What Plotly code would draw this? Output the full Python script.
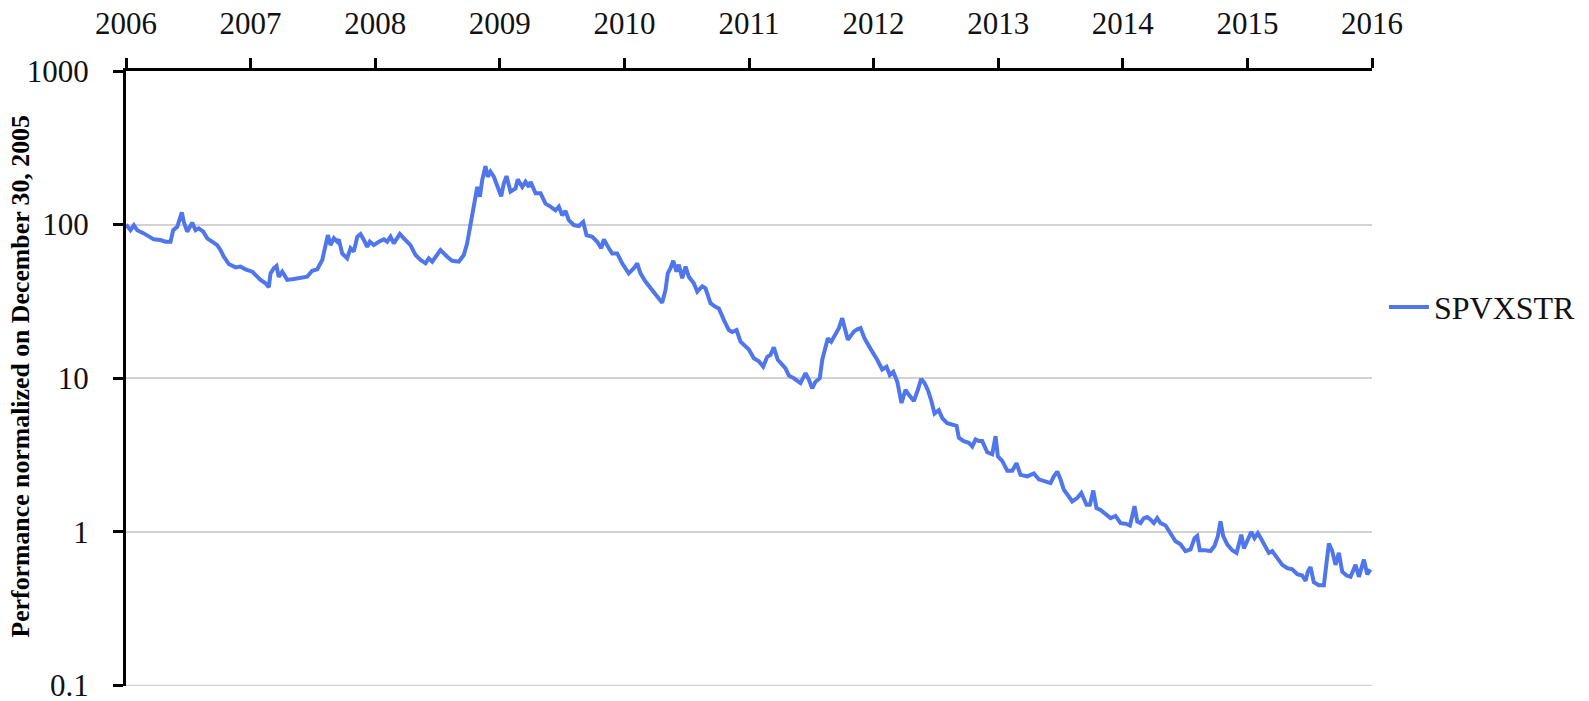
import plotly.graph_objects as go

# Decimal-year positions and SPVXSTR values
years = [
    2006.000, 2006.036, 2006.063, 2006.090, 2006.143, 2006.183, 2006.223, 2006.277, 2006.317, 2006.357,
    2006.379, 2006.411, 2006.432, 2006.448, 2006.464, 2006.491, 2006.531, 2006.558, 2006.584, 2006.620,
    2006.652, 2006.692, 2006.732, 2006.758, 2006.785, 2006.825, 2006.879, 2006.919, 2006.959, 2007.013,
    2007.039, 2007.080, 2007.120, 2007.146, 2007.160, 2007.186, 2007.208, 2007.226, 2007.254, 2007.294,
    2007.347, 2007.414, 2007.454, 2007.494, 2007.535, 2007.575, 2007.601, 2007.620, 2007.641, 2007.668,
    2007.695, 2007.708, 2007.735, 2007.775, 2007.802, 2007.828, 2007.856, 2007.882, 2007.909, 2007.936,
    2007.957, 2007.989, 2008.029, 2008.069, 2008.096, 2008.123, 2008.149, 2008.198, 2008.230, 2008.283,
    2008.324, 2008.364, 2008.404, 2008.430, 2008.458, 2008.498, 2008.524, 2008.578, 2008.618, 2008.671,
    2008.711, 2008.738, 2008.759, 2008.779, 2008.805, 2008.819, 2008.840, 2008.859, 2008.885, 2008.904,
    2008.925, 2008.952, 2008.979, 2009.011, 2009.032, 2009.054, 2009.086, 2009.126, 2009.144, 2009.180,
    2009.206, 2009.233, 2009.247, 2009.287, 2009.327, 2009.367, 2009.407, 2009.447, 2009.474, 2009.501,
    2009.527, 2009.554, 2009.594, 2009.634, 2009.669, 2009.696, 2009.742, 2009.782, 2009.814, 2009.835,
    2009.875, 2009.902, 2009.942, 2009.982, 2010.035, 2010.076, 2010.103, 2010.129, 2010.169, 2010.210,
    2010.250, 2010.303, 2010.330, 2010.348, 2010.370, 2010.392, 2010.418, 2010.437, 2010.464, 2010.491,
    2010.517, 2010.557, 2010.585, 2010.625, 2010.651, 2010.691, 2010.731, 2010.758, 2010.798, 2010.838,
    2010.865, 2010.900, 2010.932, 2010.972, 2010.999, 2011.039, 2011.079, 2011.114, 2011.146, 2011.173,
    2011.199, 2011.231, 2011.267, 2011.293, 2011.320, 2011.360, 2011.413, 2011.454, 2011.480, 2011.507,
    2011.534, 2011.568, 2011.588, 2011.606, 2011.633, 2011.660, 2011.686, 2011.721, 2011.748, 2011.775,
    2011.793, 2011.820, 2011.841, 2011.869, 2011.895, 2011.927, 2011.962, 2011.989, 2012.029, 2012.069,
    2012.104, 2012.130, 2012.158, 2012.190, 2012.224, 2012.256, 2012.283, 2012.323, 2012.355, 2012.382,
    2012.409, 2012.435, 2012.462, 2012.489, 2012.523, 2012.551, 2012.591, 2012.631, 2012.666, 2012.684,
    2012.724, 2012.764, 2012.792, 2012.818, 2012.845, 2012.872, 2012.912, 2012.952, 2012.979, 2012.997,
    2013.032, 2013.073, 2013.113, 2013.147, 2013.179, 2013.233, 2013.286, 2013.326, 2013.420, 2013.447,
    2013.474, 2013.500, 2013.527, 2013.567, 2013.594, 2013.634, 2013.667, 2013.709, 2013.736, 2013.763,
    2013.789, 2013.821, 2013.861, 2013.902, 2013.942, 2013.955, 2013.982, 2014.022, 2014.057, 2014.076,
    2014.094, 2014.116, 2014.142, 2014.169, 2014.196, 2014.223, 2014.249, 2014.276, 2014.303, 2014.343,
    2014.383, 2014.423, 2014.463, 2014.503, 2014.544, 2014.576, 2014.597, 2014.618, 2014.664, 2014.704,
    2014.736, 2014.763, 2014.784, 2014.806, 2014.838, 2014.878, 2014.913, 2014.931, 2014.951, 2014.972,
    2015.004, 2015.031, 2015.057, 2015.084, 2015.111, 2015.138, 2015.172, 2015.199, 2015.239, 2015.280,
    2015.320, 2015.360, 2015.400, 2015.440, 2015.467, 2015.485, 2015.507, 2015.533, 2015.573, 2015.614,
    2015.635, 2015.654, 2015.681, 2015.707, 2015.734, 2015.761, 2015.796, 2015.828, 2015.868, 2015.895,
    2015.935, 2015.962, 2015.988,
]

spvxstr = [
    100, 92, 99, 92, 87.7, 83.4, 80.2, 79.4, 77.4, 77.4,
    92, 96.9, 107, 120, 104, 90, 103, 92, 94.6, 90,
    81.5, 77.4, 73.6, 68.4, 61.8, 55.4, 52.7, 53.3, 51.2, 49.4,
    47, 43.7, 41.5, 39.1, 48.2, 52, 53.8, 45.8, 49.4, 43.7,
    44.3, 45.2, 45.8, 50.1, 51.2, 58.9, 71.8, 85.5, 73.6, 81.5,
    77.4, 80.2, 65, 60.4, 70.2, 66.7, 83.4, 86.9, 79.4, 71.8,
    77.4, 73.6, 77.4, 80.2, 77.4, 83.4, 75.5, 86.9, 81.5, 73.6,
    63.4, 58.9, 56, 60.4, 57.4, 63.4, 68.4, 61.8, 58.2, 57.4,
    63.4, 75.5, 96.9, 121, 152, 176, 152, 195, 240, 205,
    221, 205, 181, 153, 185, 207, 164, 172, 197, 176,
    190, 176, 190, 160, 160, 137, 131, 124, 131, 115,
    123, 107, 99.4, 98, 104, 85.5, 83.4, 77.4, 70.2, 80.2,
    70.2, 65, 65, 56, 48.2, 52, 56, 48.2, 42.6, 38.5,
    35.7, 31, 37.6, 48.2, 52, 58.2, 49.4, 54.9, 44.8, 53.3,
    45.8, 41.5, 36.6, 39.7, 38.5, 30.8, 29.2, 28.5, 24, 20.6,
    20, 20.6, 17.3, 16, 15.4, 13.5, 12.9, 11.9, 13.8, 14.2,
    15.9, 13.2, 12.2, 11.6, 10.4, 10, 9.3, 10.8, 9.8, 8.6,
    9.5, 10, 13.2, 15.3, 18.2, 17.3, 19.1, 21.2, 24.6, 20.1,
    17.8, 19.1, 20.1, 20.8, 21.2, 18.2, 16, 14.9, 13.2, 11.4,
    11.9, 10.5, 11.0, 9.5, 6.9, 8.4, 7.8, 7.1, 8.4, 9.9,
    9.3, 8.4, 7.2, 5.9, 6.2, 5.5, 5.1, 5.0, 4.9, 4.1,
    3.9, 3.8, 3.6, 4.0, 3.9, 3.9, 3.3, 3.2, 4.2, 3.1,
    2.9, 2.5, 2.5, 2.8, 2.35, 2.3, 2.4, 2.2, 2.08, 2.3,
    2.47, 2.2, 1.88, 1.70, 1.58, 1.66, 1.79, 1.50, 1.50, 1.86,
    1.43, 1.39, 1.32, 1.23, 1.27, 1.23, 1.14, 1.13, 1.10, 1.27,
    1.47, 1.17, 1.14, 1.23, 1.25, 1.20, 1.14, 1.23, 1.14, 1.10,
    0.98, 0.87, 0.83, 0.75, 0.77, 0.91, 0.94, 0.76, 0.76, 0.75,
    0.81, 0.94, 1.17, 0.94, 0.83, 0.76, 0.73, 0.85, 0.96, 0.78,
    0.90, 1.00, 0.91, 0.98, 0.90, 0.81, 0.73, 0.75, 0.67, 0.61,
    0.58, 0.57, 0.53, 0.52, 0.48, 0.55, 0.59, 0.47, 0.45, 0.45,
    0.63, 0.84, 0.75, 0.61, 0.73, 0.55, 0.52, 0.51, 0.61, 0.51,
    0.66, 0.53, 0.57,
]

year_ticks = list(range(2006, 2017))
y_ticks = [0.1, 1, 10, 100, 1000]
y_tick_labels = ["0.1", "1", "10", "100", "1000"]

FONT = "Liberation Serif"
TEXT_COLOR = "#111111"
LINE_COLOR = "#5076EB"
GRID_COLOR = "#d2d2d2"

fig = go.Figure()
fig.add_trace(go.Scatter(
    x=years, y=spvxstr, mode="lines", name="SPVXSTR",
    line=dict(color=LINE_COLOR, width=4),
))

# Bottom gridline at the axis minimum (Plotly omits gridlines on the range edge)
fig.add_hline(y=y_ticks[0], line=dict(color=GRID_COLOR, width=1.5), layer="below")

# Page body has an 8px default margin, so the figure is laid out 8px up/left.
fig.update_layout(
    width=1589, height=701,
    margin=dict(l=118, r=225, t=63, b=23),
    paper_bgcolor="white", plot_bgcolor="white",
    font=dict(family=FONT, size=31, color=TEXT_COLOR),
    showlegend=True,
    legend=dict(x=1.0096, xanchor="left", y=0.616, yanchor="middle",
                font=dict(family=FONT, size=32, color=TEXT_COLOR),
                bgcolor="rgba(0,0,0,0)", itemwidth=40),
    xaxis=dict(
        side="top", range=[2006, 2016], tickvals=year_ticks,
        ticktext=[str(y) for y in year_ticks],
        showgrid=False, zeroline=False, automargin=False,
        showline=True, linecolor="black", linewidth=3,
        ticks="outside", ticklen=10, tickwidth=3, tickcolor="black",
        ticklabelstandoff=12,
        tickfont=dict(family=FONT, size=31, color=TEXT_COLOR),
    ),
    yaxis=dict(
        type="log", range=[-1.003, 3], tickvals=y_ticks, ticktext=y_tick_labels,
        showgrid=True, gridcolor=GRID_COLOR, gridwidth=1.5,
        showline=True, linecolor="black", linewidth=3, automargin=False,
        ticks="outside", ticklen=10, tickwidth=3, tickcolor="black",
        ticklabelstandoff=18,
        tickfont=dict(family=FONT, size=31, color=TEXT_COLOR),
    ),
    annotations=[dict(
        text="<b>Performance normalized on December 30, 2005</b>",
        xref="paper", yref="paper", x=-0.0843, y=0.503,
        xanchor="center", yanchor="middle", textangle=-90, showarrow=False,
        font=dict(family=FONT, size=25.8, color="black"),
    )],
)

fig.write_html("out.html")
